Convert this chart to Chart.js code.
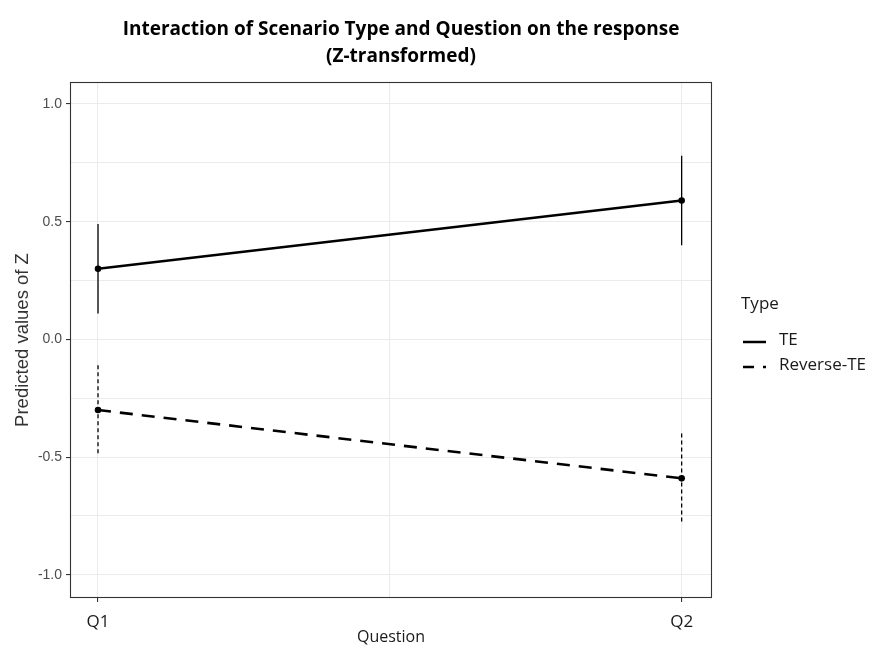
<!DOCTYPE html>
<html><head><meta charset="utf-8">
<script src="https://cdn.jsdelivr.net/npm/chart.js@4"></script>
<style>html,body{margin:0;padding:0;background:#fff}#wrap{width:871px;height:648px;position:relative}</style>
</head><body><div id="wrap"><canvas id="c" width="871" height="648"></canvas></div>
<script>
const categories = ['Q1', 'Q2'];
const seriesNames = ['TE', 'Reverse-TE'];
const teValues = [0.30, 0.59];
const teLow = [0.11, 0.40];
const teHigh = [0.49, 0.78];
const revValues = [-0.30, -0.59];
const revLow = [-0.49, -0.78];
const revHigh = [-0.11, -0.40];
const yTickLabels = ['-1.0', '-0.5', '0.0', '0.5', '1.0'];
const titleLines = ['Interaction of Scenario Type and Question on the response', '(Z-transformed)'];
const xTitle = 'Question';
const yTitle = 'Predicted values of Z';
const legendTitle = 'Type';

const TITLE_FONT = '"Open Sans", sans-serif';
const SANS = '"Liberation Sans", Arial, sans-serif';

function pts(vals){ return vals.map((v,i)=>({x:i, y:v})); }

const extras = {
  id: 'extras',
  afterDatasetsDraw(chart){
    const ctx = chart.ctx, xs = chart.scales.x, ys = chart.scales.y;
    const bars = [[teLow, teHigh, []], [revLow, revHigh, [4, 3]]];
    bars.forEach(([lo, hi, dash]) => {
      ctx.save();
      ctx.strokeStyle = '#000'; ctx.lineWidth = 1.3; ctx.setLineDash(dash);
      lo.forEach((l, i) => {
        const px = xs.getPixelForValue(i);
        ctx.beginPath();
        ctx.moveTo(px, ys.getPixelForValue(hi[i]));
        ctx.lineTo(px, ys.getPixelForValue(l));
        ctx.stroke();
      });
      ctx.restore();
    });
  },
  afterDraw(chart){
    const ctx = chart.ctx, a = chart.chartArea;
    ctx.save();
    ctx.strokeStyle = '#333'; ctx.lineWidth = 1.1;
    ctx.strokeRect(a.left + 0.5, a.top + 0.5, a.right - a.left - 1, a.bottom - a.top - 1);
    ctx.fillStyle = '#000'; ctx.textAlign = 'center'; ctx.textBaseline = 'alphabetic';
    ctx.font = 'bold 19px ' + TITLE_FONT;
    ctx.fillText(titleLines[0], 401, 35);
    ctx.fillText(titleLines[1], 401, 62);
    ctx.font = '16px ' + TITLE_FONT;
    ctx.fillStyle = '#1a1a1a';
    ctx.fillText(xTitle, (a.left + a.right) / 2, 642);
    ctx.save();
    ctx.translate(28, (a.top + a.bottom) / 2);
    ctx.rotate(-Math.PI / 2);
    ctx.font = '18.5px ' + SANS;
    ctx.fillStyle = '#333';
    ctx.fillText(yTitle, 0, 0);
    ctx.restore();
    ctx.textAlign = 'left'; ctx.textBaseline = 'middle';
    ctx.fillStyle = '#1a1a1a';
    ctx.font = '17px ' + TITLE_FONT;
    ctx.fillText(legendTitle, 741, 304);
    ctx.fillText(seriesNames[0], 779, 340);
    ctx.fillText(seriesNames[1], 779, 365);
    ctx.strokeStyle = '#000'; ctx.lineWidth = 2.5;
    ctx.beginPath(); ctx.moveTo(743, 342); ctx.lineTo(766, 342); ctx.stroke();
    ctx.beginPath(); ctx.moveTo(743, 367); ctx.lineTo(754, 367); ctx.stroke();
    ctx.beginPath(); ctx.moveTo(763, 367); ctx.lineTo(766, 367); ctx.stroke();
    ctx.restore();
  }
};

new Chart(document.getElementById('c'), {
  type: 'line',
  data: {
    datasets: [
      { label: seriesNames[0], data: pts(teValues), borderColor: '#000', backgroundColor: '#000',
        borderWidth: 2.6, pointRadius: 3.3, pointBorderWidth: 0, borderDash: [] },
      { label: seriesNames[1], data: pts(revValues), borderColor: '#000', backgroundColor: '#000',
        borderWidth: 2.6, pointRadius: 3.3, pointBorderWidth: 0, borderDash: [13, 9] }
    ]
  },
  options: {
    responsive: false, animation: false, devicePixelRatio: 1,
    layout: { padding: { top: 82, right: 159, left: 0, bottom: 0 } },
    plugins: { legend: { display: false }, title: { display: false }, tooltip: { enabled: false } },
    scales: {
      x: {
        type: 'linear', min: -0.048, max: 1.052,
        afterBuildTicks(s){ s.ticks = [{value:0},{value:0.5},{value:1}]; },
        afterFit(s){ s.height = 50; },
        border: { display: false },
        grid: { color: '#ebebeb', lineWidth: 1.1, drawTicks: true, tickLength: 4,
          tickColor: c => (c.tick && c.tick.value === 0.5) ? 'rgba(0,0,0,0)' : '#333' },
        ticks: { padding: 10, maxRotation: 0, autoSkip: false, color: '#1a1a1a',
          font: { family: TITLE_FONT, size: 17 },
          callback: v => v === 0 ? categories[0] : (v === 1 ? categories[1] : '') }
      },
      y: {
        min: -1.098, max: 1.093,
        afterBuildTicks(s){ s.ticks = [-1,-0.75,-0.5,-0.25,0,0.25,0.5,0.75,1].map(v=>({value:v})); },
        afterFit(s){ s.width = 70; },
        border: { display: false },
        grid: { color: '#ebebeb', lineWidth: 1.1, drawTicks: true, tickLength: 4,
          tickColor: c => (c.tick && Math.abs(c.tick.value * 2 - Math.round(c.tick.value * 2)) < 1e-6) ? '#333' : 'rgba(0,0,0,0)' },
        ticks: { padding: 4, color: '#4d4d4d', autoSkip: false,
          font: { family: SANS, size: 14 },
          callback: v => { const k = Math.round(v * 2); return Math.abs(v * 2 - k) < 1e-6 ? yTickLabels[k + 2] : ''; } }
      }
    }
  },
  plugins: [extras]
});
</script></body></html>
